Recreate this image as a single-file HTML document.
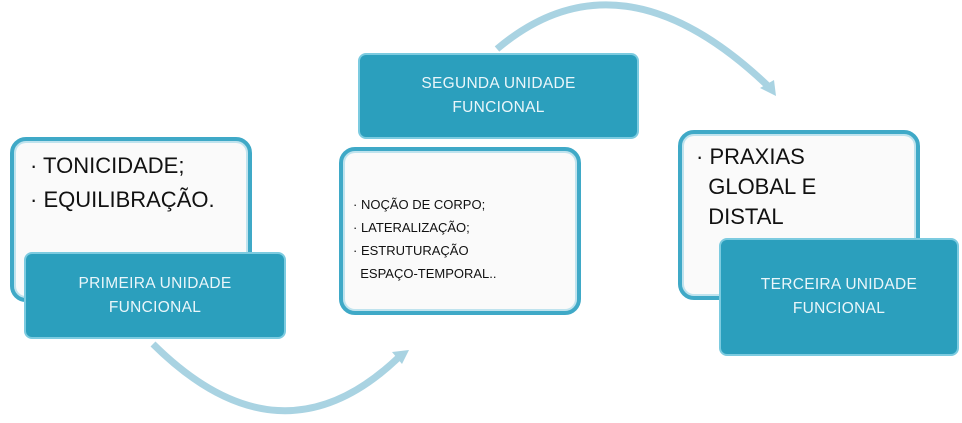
<!DOCTYPE html>
<html><head><meta charset="utf-8"><style>
body{margin:0;width:962px;height:423px;background:#fff;position:relative;overflow:hidden;font-family:"Liberation Sans","DejaVu Sans",sans-serif}
.w{position:absolute;background:#fafafa;border:4px solid #3fa9c7;border-radius:16px;box-shadow:inset 0 0 0 2px #bfe3ee;box-sizing:border-box;color:#111}
.t{position:absolute;background:#2b9fbd;border:2px solid #7ccbe0;border-radius:8px;box-sizing:border-box;color:#eaf6fa;text-align:center;display:flex;align-items:center;justify-content:center;font-size:15.5px;line-height:24px;letter-spacing:0.3px}
.w p{margin:0}
</style></head><body>
<svg width="962" height="423" style="position:absolute;left:0;top:0">
<path d="M153,344 Q280,470 398,358" fill="none" stroke="#a9d3e2" stroke-width="7"/>
<polygon points="409,350 392,352 402,364" fill="#a9d3e2"/>
<path d="M497,49 Q620,-55 768,86" fill="none" stroke="#a9d3e2" stroke-width="7"/>
<polygon points="776,96 760,88 774,80" fill="#a9d3e2"/>
</svg>
<div class="w" style="left:10px;top:137px;width:242px;height:165px;padding:8px 0 0 16px;font-size:22px;line-height:34px"><p>· TONICIDADE;</p><p>· EQUILIBRAÇÃO.</p></div>
<div class="t" style="left:24px;top:252px;width:262px;height:87px">PRIMEIRA UNIDADE<br>FUNCIONAL</div>
<div class="t" style="left:358px;top:53px;width:281px;height:86px">SEGUNDA UNIDADE<br>FUNCIONAL</div>
<div class="w" style="left:339px;top:147px;width:242px;height:168px;padding:42px 0 0 10px;font-size:13px;line-height:23px"><p>· NOÇÃO DE CORPO;</p><p>· LATERALIZAÇÃO;</p><p>· ESTRUTURAÇÃO<br>&nbsp;&nbsp;ESPAÇO-TEMPORAL..</p></div>
<div class="w" style="left:678px;top:130px;width:242px;height:170px;padding:8px 0 0 14px;font-size:22px;line-height:30px"><p>· PRAXIAS<br>&nbsp;&nbsp;GLOBAL E<br>&nbsp;&nbsp;DISTAL</p></div>
<div class="t" style="left:719px;top:238px;width:240px;height:118px">TERCEIRA UNIDADE<br>FUNCIONAL</div>
</body></html>
